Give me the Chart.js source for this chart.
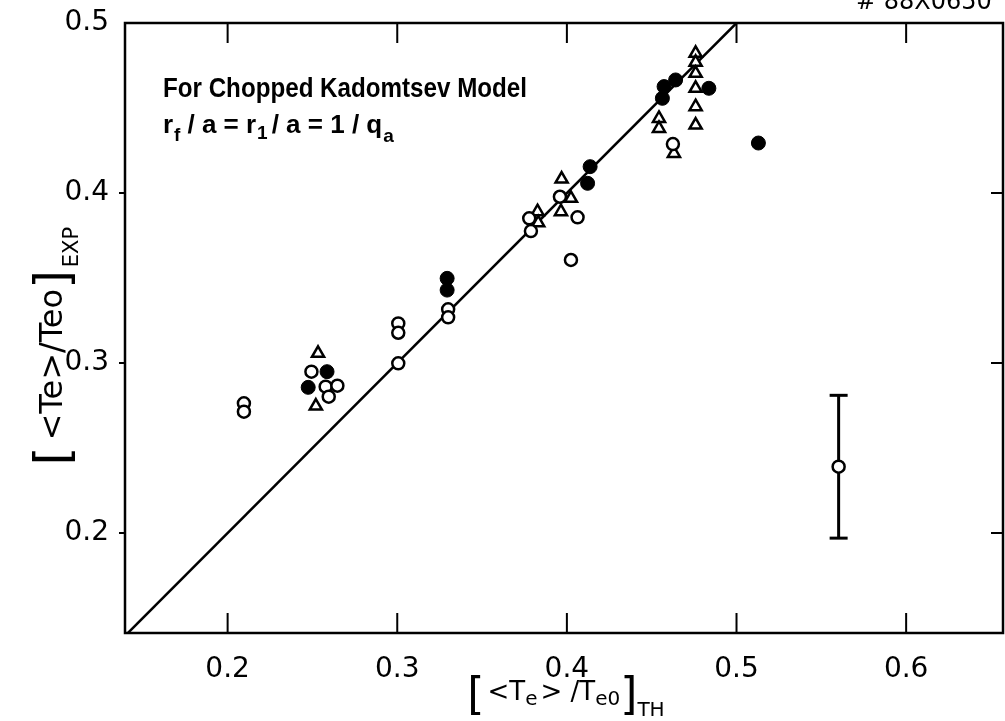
<!doctype html>
<html lang="en">
<head>
    <meta charset="utf-8">
    <title>Chopped Kadomtsev Model</title>
    <script src="https://cdn.jsdelivr.net/npm/chart.js@4.4.0/dist/chart.umd.min.js"></script>
    <style>
        html, body { margin: 0; padding: 0; background: #fff; }
        canvas { display: block; }
    </style>
</head>
<body>
<canvas id="myChart" width="1005" height="721"></canvas>
<script type="text/javascript">
    // values: [<Te>/Te0]_TH on x, [<Te>/Te0]_EXP on y
    const openX = [0.2096, 0.2096, 0.2494, 0.2578, 0.2647, 0.2596, 0.3006, 0.3006, 0.3006, 0.3300, 0.3300,
        0.3788, 0.3778, 0.3959, 0.4063, 0.4024, 0.4625, 0.5602]
    const openY = [0.2763, 0.2714, 0.2949, 0.2861, 0.2867, 0.2802, 0.3233, 0.3178, 0.2998, 0.3316, 0.3269,
        0.3776, 0.3851, 0.3978, 0.3857, 0.3606, 0.4288, 0.2390]

    const filledX = [0.2475, 0.2586, 0.3294, 0.3294, 0.4122, 0.4137, 0.4563, 0.4573, 0.4641, 0.4837, 0.5129]
    const filledY = [0.2857, 0.2949, 0.3498, 0.3429, 0.4057, 0.4155, 0.4557, 0.4626, 0.4665, 0.4616, 0.4294]

    const triX = [0.2533, 0.2520, 0.3827, 0.3831, 0.3969, 0.4024, 0.3965, 0.4543, 0.4543, 0.4631,
        0.4759, 0.4759, 0.4759, 0.4759, 0.4759, 0.4759]
    const triY = [0.3057, 0.2747, 0.3890, 0.3825, 0.4082, 0.3969, 0.3890, 0.4439, 0.4380, 0.4233,
        0.4822, 0.4769, 0.4704, 0.4616, 0.4508, 0.4400]

    const diagX = [0.14, 0.5]          // y = x line
    const errX = [0.5602, 0.5602]
    const errY = [0.197, 0.281]

    const xTicks = [0.2, 0.3, 0.4, 0.5, 0.6]
    const yTicks = [0.2, 0.3, 0.4, 0.5]
    const xMin = 0.1395, xMax = 0.6571
    const yMin = 0.1412, yMax = 0.5

    function pts(xs, ys) {
        return xs.map((x, i) => ({x: x, y: ys[i]}))
    }

    // draws a row of text pieces, some lowered as subscripts; align 'center' or 'left'
    function drawParts(ctx, parts, x, y, align) {
        let total = 0
        parts.forEach(p => {
            ctx.font = p.font
            p.w = ctx.measureText(p.t).width + (p.gap || 0)
            total += p.w
        })
        let cx = align === 'left' ? x : x - total / 2
        parts.forEach(p => {
            ctx.font = p.font
            ctx.fillText(p.t, cx, y + (p.dy || 0))
            cx += p.w
        })
    }

    // text squeezed/stretched to a given width, like the lettering on the plate
    function fitText(ctx, text, x, y, width) {
        const w = ctx.measureText(text).width
        ctx.save()
        ctx.translate(x, y)
        ctx.scale(width / w, 1)
        ctx.fillText(text, 0, 0)
        ctx.restore()
    }

    const framePlugin = {
        id: 'frame',
        afterDatasetsDraw(chart) {
            const ctx = chart.ctx
            const a = chart.chartArea
            const xs = chart.scales.x, ys = chart.scales.y
            ctx.save()
            ctx.strokeStyle = '#000'
            ctx.lineWidth = 2.5
            ctx.strokeRect(a.left, a.top, a.right - a.left, a.bottom - a.top)
            ctx.lineWidth = 2
            ctx.beginPath()
            xTicks.forEach(v => {
                const px = xs.getPixelForValue(v)
                ctx.moveTo(px, a.bottom); ctx.lineTo(px, a.bottom - 20)
                ctx.moveTo(px, a.top); ctx.lineTo(px, a.top + 20)
            })
            yTicks.forEach(v => {
                if (v >= yMax) return
                const py = ys.getPixelForValue(v)
                ctx.moveTo(a.left - 6, py); ctx.lineTo(a.left, py)
                ctx.moveTo(a.right - 12, py); ctx.lineTo(a.right, py)
            })
            ctx.stroke()
            ctx.restore()
        },
        afterDraw(chart) {
            const ctx = chart.ctx
            ctx.save()
            ctx.fillStyle = '#000'
            ctx.textBaseline = 'alphabetic'
            ctx.textAlign = 'left'

            // annotation
            ctx.font = 'bold 27px "Liberation Sans", sans-serif'
            fitText(ctx, 'For Chopped Kadomtsev Model', 163, 97, 364)
            const f = 'bold 26px "Liberation Sans", sans-serif'
            const s = 'bold 19px "Liberation Sans", sans-serif'
            const rParts = [
                {t: 'r', font: f, gap: 1}, {t: 'f', font: s, dy: 8, gap: 7}, {t: '/ a = r', font: f, gap: 1},
                {t: '1', font: s, dy: 6, gap: 4}, {t: '/ a = 1 / q', font: f, gap: 1}, {t: 'a', font: s, dy: 9}
            ]
            drawParts(ctx, rParts, 163, 133, 'left')

            // figure number, cut off at the top edge
            ctx.font = '24px "DejaVu Sans", sans-serif'
            ctx.fillText('# 88X0650', 856, 9)

            // x axis title
            const big = '44px "DejaVu Sans", sans-serif'
            const t = '26px "DejaVu Sans", sans-serif'
            const sb = '20px "DejaVu Sans", sans-serif'
            drawParts(ctx, [
                {t: '[', font: big, dy: 9, gap: 3}, {t: '<T', font: t}, {t: 'e', font: sb, dy: 5, gap: 3},
                {t: '> /T', font: t}, {t: 'e0', font: sb, dy: 5}, {t: ']', font: big, dy: 9},
                {t: 'TH', font: sb, dy: 16}
            ], 566, 700)

            // y axis title
            ctx.translate(54, 346)
            ctx.rotate(-Math.PI / 2)
            drawParts(ctx, [
                {t: '[', font: '48px "DejaVu Sans", sans-serif', dy: 7, gap: 6},
                {t: '<Te>/Teo', font: '32px "DejaVu Sans", sans-serif'},
                {t: ']', font: '48px "DejaVu Sans", sans-serif', dy: 7, gap: 3},
                {t: 'EXP', font: '21px "DejaVu Sans", sans-serif', dy: 16}
            ], 0, 8)
            ctx.restore()
        }
    }

    const ctx = document.getElementById('myChart')
    new Chart(ctx, {
        type: 'scatter',
        data: {
            datasets: [
                {
                    label: 'open',
                    data: pts(openX, openY),
                    pointStyle: 'circle',
                    pointRadius: 6,
                    backgroundColor: '#fff',
                    borderColor: '#000',
                    borderWidth: 2.5,
                    order: 1
                },
                {
                    label: 'filled',
                    data: pts(filledX, filledY),
                    pointStyle: 'circle',
                    pointRadius: 7,
                    backgroundColor: '#000',
                    borderColor: '#000',
                    borderWidth: 1,
                    order: 2
                },
                {
                    label: 'triangle',
                    data: pts(triX, triY),
                    pointStyle: 'triangle',
                    pointRadius: 7,
                    backgroundColor: '#fff',
                    borderColor: '#000',
                    borderWidth: 2.5,
                    order: 3
                },
                {
                    type: 'line',
                    label: 'error',
                    data: pts(errX, errY),
                    borderColor: '#000',
                    borderWidth: 3,
                    pointStyle: 'line',
                    pointRadius: 9,
                    pointBorderWidth: 3,
                    pointBorderColor: '#000',
                    order: 8
                },
                {
                    type: 'line',
                    label: 'y = x',
                    data: pts(diagX, diagX),
                    borderColor: '#000',
                    borderWidth: 2.5,
                    pointRadius: 0,
                    order: 9
                }
            ]
        },
        options: {
            responsive: false,
            animation: false,
            layout: {autoPadding: false, padding: {top: 23, right: 2, left: 0, bottom: 0}},
            plugins: {legend: {display: false}, tooltip: {enabled: false}},
            scales: {
                x: {
                    type: 'linear',
                    min: xMin,
                    max: xMax,
                    afterBuildTicks: (scale) => { scale.ticks = xTicks.map(v => ({value: v})) },
                    afterFit: (scale) => {
                        scale.height = 88
                        scale.paddingLeft = 0
                        scale.paddingRight = 0
                    },
                    grid: {display: false},
                    border: {display: false},
                    ticks: {
                        color: '#000',
                        padding: 12,
                        font: {family: '"DejaVu Sans", sans-serif', size: 28},
                        callback: (v) => v.toFixed(1)
                    }
                },
                y: {
                    type: 'linear',
                    min: yMin,
                    max: yMax,
                    afterBuildTicks: (scale) => { scale.ticks = yTicks.map(v => ({value: v})) },
                    afterFit: (scale) => {
                        scale.width = 125
                        scale.paddingTop = 0
                        scale.paddingBottom = 0
                    },
                    grid: {display: false},
                    border: {display: false},
                    ticks: {
                        color: '#000',
                        padding: 8,
                        font: {family: '"DejaVu Sans", sans-serif', size: 28},
                        callback: (v) => v.toFixed(1)
                    }
                }
            }
        },
        plugins: [framePlugin]
    })
</script>
</body>
</html>
